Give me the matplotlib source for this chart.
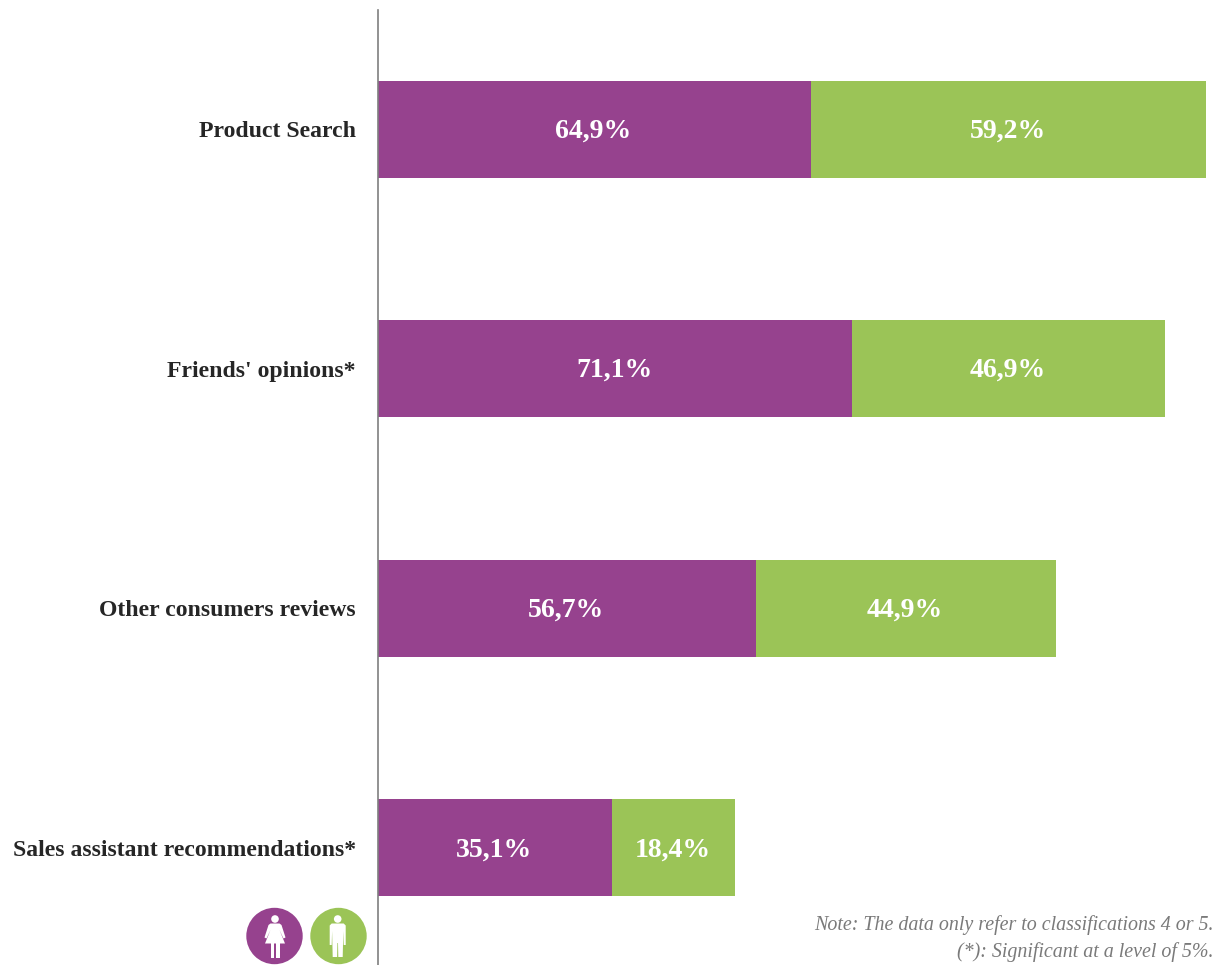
#!/usr/bin/env python3
"""Stacked bars of information sources by gender."""
import matplotlib
matplotlib.use('Agg')
import matplotlib.pyplot as plt
import matplotlib.patches as mpatches
import numpy as np

plt.rcParams['font.family'] = ['Liberation Serif', 'DejaVu Serif']

categories = ["Product Search", "Friends' opinions*", "Other consumers reviews",
              "Sales assistant recommendations*"]
women = [64.9, 71.1, 56.7, 35.1]
men = [59.2, 46.9, 44.9, 18.4]
notes = ["Note: The data only refer to classifications 4 or 5.",
         "(*): Significant at a level of 5%."]

PURPLE = '#96428E'
GREEN = '#9BC457'
W, H = 1216, 965

fig = plt.figure(figsize=(W / 100, H / 100), dpi=100)
ax = fig.add_axes([378 / W, 0, 1 - 378 / W, 955 / H])

y = np.arange(len(categories))
ax.barh(y, women, height=0.405, color=PURPLE, linewidth=0)
ax.barh(y, men, left=women, height=0.405, color=GREEN, linewidth=0)
ax.set_xlim(0, 125.6)
ax.set_ylim(3.49, -0.497)

ax.set_xticks([])
ax.set_yticks(y)
ax.set_yticklabels(categories, fontsize=17.1, fontweight='bold', color='#262626')
ax.tick_params(axis='y', length=0, pad=16)
for name in ['top', 'right', 'bottom']:
    ax.spines[name].set_visible(False)
ax.spines['left'].set_color('#7F7F7F')
ax.spines['left'].set_linewidth(1.2)

# value labels, decimal comma
for i in y:
    ax.annotate(f"{women[i]:.1f}%".replace('.', ','), (women[i] / 2, i), xytext=(-0.7, -1.5),
                textcoords='offset points', color='white', fontsize=20, fontweight='bold',
                ha='center', va='center')
    ax.annotate(f"{men[i]:.1f}%".replace('.', ','), (women[i] + men[i] / 2, i), xytext=(-0.7, -1.5),
                textcoords='offset points', color='white', fontsize=20, fontweight='bold',
                ha='center', va='center')

# overlay in pixel units for the notes and the gender icons
ov = fig.add_axes([0, 0, 1, 1], facecolor='none')
ov.set_xlim(0, W)
ov.set_ylim(H, 0)
ov.axis('off')

ov.text(1213.5, 925, notes[0], ha='right', va='center', fontsize=14.4,
        style='italic', color='#7A7A7A')
ov.text(1213.5, 952, notes[1], ha='right', va='center', fontsize=14.4,
        style='italic', color='#7A7A7A')


def woman(cx, cy):
    ov.add_patch(mpatches.Circle((cx, cy - 17), 3.8, color='white', lw=0))
    dress = [(-4.5, -12.5), (4.5, -12.5), (6.5, -11), (10.5, 1.5), (8.5, 2.5), (4.5, -6),
             (10, 7.5), (-10, 7.5), (-4.5, -6), (-8.5, 2.5), (-10.5, 1.5), (-6.5, -11)]
    ov.add_patch(mpatches.Polygon([(cx + a, cy + b) for a, b in dress], color='white', lw=0))
    ov.add_patch(mpatches.Rectangle((cx - 4.5, cy + 7), 3.4, 15, color='white', lw=0))
    ov.add_patch(mpatches.Rectangle((cx + 1.1, cy + 7), 3.4, 15, color='white', lw=0))


def man(cx, cy):
    ov.add_patch(mpatches.Circle((cx, cy - 17), 3.8, color='white', lw=0))
    body = [(-6, -12.5), (6, -12.5), (8, -10.5), (8, 9), (6, 9), (5.6, -5), (5, 21),
            (0.6, 21), (0.3, 7), (-0.3, 7), (-0.6, 21), (-5, 21), (-5.6, -5), (-6, 9),
            (-8, 9), (-8, -10.5)]
    ov.add_patch(mpatches.Polygon([(cx + a, cy + b) for a, b in body], color='white', lw=0))


ov.add_patch(mpatches.Circle((274.5, 936), 28.2, color=PURPLE, lw=0))
ov.add_patch(mpatches.Circle((338.5, 936), 28.2, color=GREEN, lw=0))
woman(275, 936)
man(337.7, 936)

fig.savefig("out.png", dpi=100)
plt.close(fig)
